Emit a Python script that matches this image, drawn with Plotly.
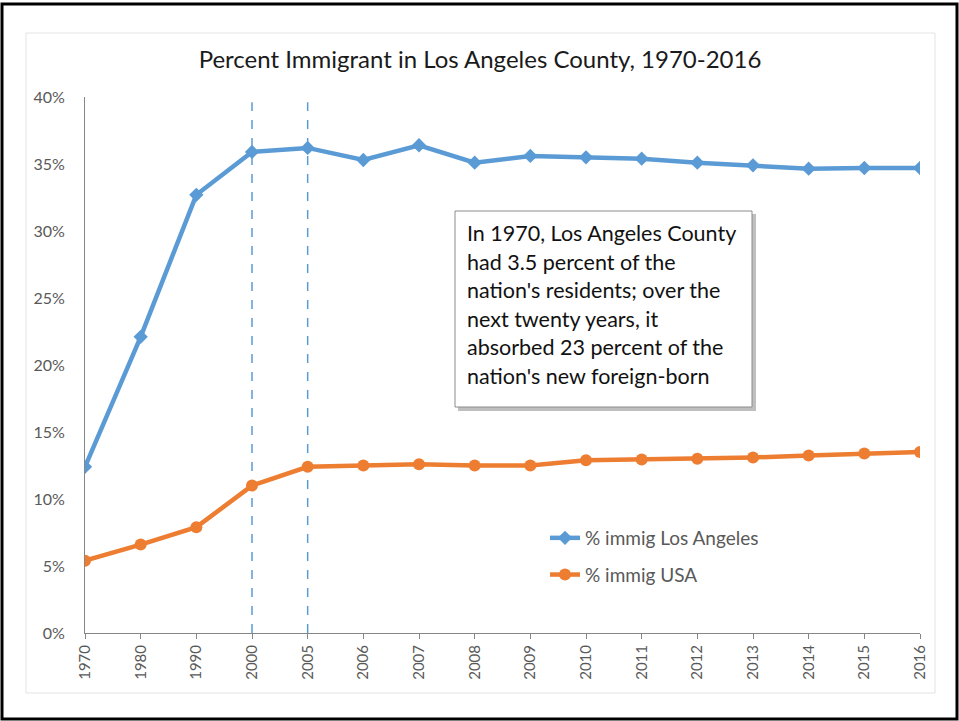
import plotly.graph_objects as go

years = ["1970", "1980", "1990", "2000", "2005", "2006", "2007", "2008",
         "2009", "2010", "2011", "2012", "2013", "2014", "2015", "2016"]
la_pct = [12.4, 22.1, 32.7, 35.9, 36.2, 35.3, 36.4, 35.1,
          35.6, 35.5, 35.4, 35.1, 34.9, 34.65, 34.7, 34.7]
usa_pct = [5.4, 6.6, 7.9, 11.0, 12.4, 12.5, 12.6, 12.5,
           12.5, 12.9, 12.95, 13.0, 13.1, 13.25, 13.4, 13.5]
marker_years = ["2000", "2005"]
marker_top = 39.6
y_ticks = [0, 5, 10, 15, 20, 25, 30, 35, 40]
y_tick_text = [f"{v}%" for v in y_ticks]
note_lines = ["In 1970, Los Angeles County",
              "had 3.5 percent of the",
              "nation's residents; over the",
              "next twenty years, it",
              "absorbed 23 percent of the",
              "nation's new foreign-born"]

W, H = 959, 721
L, R, T, B = 85, 39, 97, 88
PW, PH = W - L - R, H - T - B


def px(x):
    return (x - L) / PW


def py(y):
    return (H - B - y) / PH


BLUE = "#5B9BD5"
ORANGE = "#ED7D31"
FONT = "Lato"

fig = go.Figure()

for yr in marker_years:
    fig.add_trace(go.Scatter(x=[yr, yr], y=[0, marker_top], mode="lines",
                             line=dict(color=BLUE, width=1.5, dash="dash"),
                             showlegend=False, hoverinfo="skip"))

fig.add_trace(go.Scatter(x=years, y=la_pct, mode="lines+markers",
                         name="% immig Los Angeles", legendgroup="la",
                         line=dict(color=BLUE, width=4.5),
                         marker=dict(symbol="diamond", size=11, color=BLUE)))
fig.add_trace(go.Scatter(x=years, y=usa_pct, mode="lines+markers",
                         name="% immig USA", legendgroup="usa",
                         line=dict(color=ORANGE, width=4.5),
                         marker=dict(symbol="circle", size=12, color=ORANGE)))

shapes = [
    # outer black frame
    dict(type="rect", xref="paper", yref="paper", x0=px(2), x1=px(957),
         y0=py(719), y1=py(4), line=dict(color="black", width=3), layer="below"),
    # inner chart frame
    dict(type="rect", xref="paper", yref="paper", x0=px(26), x1=px(935),
         y0=py(693), y1=py(33), line=dict(color="#e3e3e3", width=1), layer="below"),
    # note shadow
    dict(type="rect", xref="paper", yref="paper", x0=px(458), x1=px(756),
         y0=py(411), y1=py(214), line=dict(width=0), fillcolor="rgba(0,0,0,0.25)"),
    # note box
    dict(type="rect", xref="paper", yref="paper", x0=px(455), x1=px(752),
         y0=py(407), y1=py(211), line=dict(color="#8c8c8c", width=1), fillcolor="white"),
]

annotations = []
for i, line in enumerate(note_lines):
    annotations.append(dict(text=line, xref="paper", yref="paper",
                            x=px(465), y=py(233 + i * 28.6), xanchor="left", yanchor="middle",
                            showarrow=False, align="left",
                            font=dict(family=FONT, size=21.5, color="#111111")))

fig.update_layout(
    width=W, height=H,
    margin=dict(l=L, r=R, t=T, b=B),
    paper_bgcolor="white", plot_bgcolor="white",
    title=dict(text="Percent Immigrant in Los Angeles County, 1970-2016",
               x=px(480), xanchor="center", xref="paper",
               y=(H - 60) / H, yanchor="middle",
               font=dict(family=FONT, size=24, color="#1a1a1a")),
    font=dict(family=FONT, color="#595959"),
    shapes=shapes,
    annotations=annotations,
    showlegend=True,
    legend=dict(x=px(545), y=py(519), xanchor="left", yanchor="top",
                bgcolor="rgba(0,0,0,0)", tracegroupgap=9,
                font=dict(family=FONT, size=19, color="#595959")),
    xaxis=dict(type="category", categoryorder="array", categoryarray=years,
               range=[0, len(years) - 1], showgrid=False, showline=True,
               linecolor="#868686", linewidth=1, ticks="outside", ticklen=5,
               tickcolor="#868686", tickangle=-90,
               tickfont=dict(family=FONT, size=15, color="#595959"), zeroline=False),
    yaxis=dict(range=[0, 40], tickvals=y_ticks, ticktext=y_tick_text,
               showgrid=False, showline=True, linecolor="#868686", linewidth=1,
               ticks="", ticklabelstandoff=16, zeroline=False,
               tickfont=dict(family=FONT, size=16, color="#595959")),
)

fig.write_html("out.html", config={"displayModeBar": False},
               post_script="document.body.style.margin='0';document.body.style.overflow='hidden';")
